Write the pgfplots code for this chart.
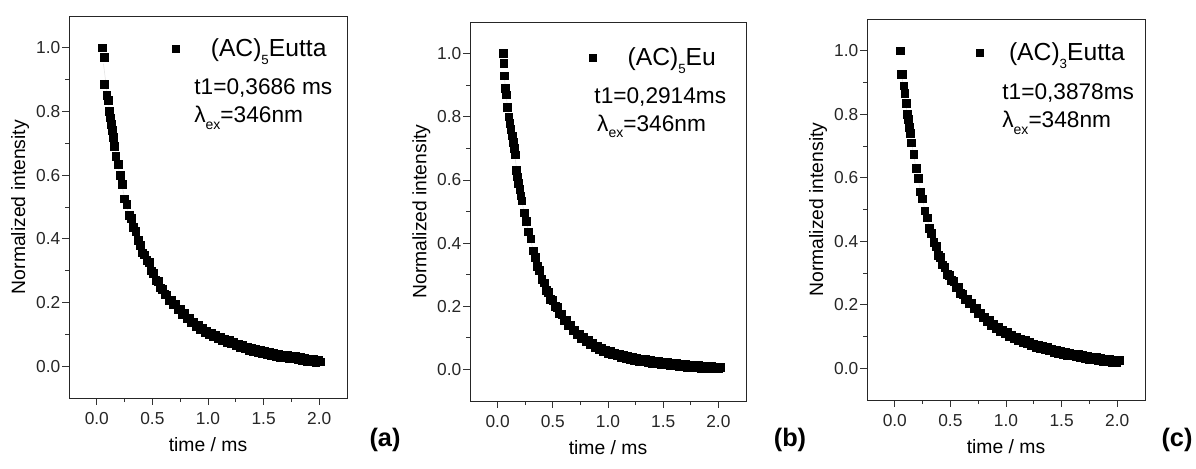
\documentclass[border=0pt]{standalone}
\usepackage{fontspec}
\setmainfont{Liberation Sans}
\usepackage{pgfplots}
\usepackage{pgfplotstable}
\pgfplotsset{compat=1.18}
\newcommand\lsub[1]{\raisebox{-0.32em}{\fontsize{10}{10}\selectfont #1}}
\newcommand\asub[1]{\raisebox{-0.28em}{\fontsize{10.5}{10.5}\selectfont #1}}

\pgfplotstableread{
t y
0.05 1.000
0.065 0.970
0.07 0.885
0.09 0.850
0.10 0.835
0.11 0.800
0.12 0.780
0.13 0.760
0.14 0.740
0.15 0.720
0.16 0.690
0.17 0.660
0.19 0.635
0.21 0.600
0.23 0.572
0.25 0.526
0.27 0.508
0.29 0.474
0.31 0.464
0.33 0.436
0.35 0.424
0.37 0.396
0.39 0.380
0.41 0.356
0.43 0.350
0.45 0.332
0.47 0.326
0.49 0.300
0.51 0.292
0.53 0.270
0.55 0.266
0.57 0.246
0.59 0.242
0.61 0.225
0.63 0.224
0.65 0.207
0.67 0.209
0.69 0.194
0.71 0.194
0.73 0.178
0.75 0.180
0.77 0.164
0.79 0.166
0.81 0.151
0.83 0.152
0.85 0.137
0.87 0.138
0.89 0.125
0.91 0.128
0.93 0.114
0.95 0.119
0.97 0.106
0.99 0.111
1.01 0.099
1.03 0.105
1.05 0.094
1.07 0.099
1.09 0.088
1.11 0.092
1.13 0.082
1.15 0.086
1.17 0.076
1.19 0.081
1.21 0.070
1.23 0.075
1.25 0.064
1.27 0.070
1.29 0.059
1.31 0.065
1.33 0.055
1.35 0.061
1.37 0.051
1.39 0.056
1.41 0.046
1.43 0.052
1.45 0.043
1.47 0.049
1.49 0.039
1.51 0.046
1.53 0.037
1.55 0.043
1.57 0.034
1.59 0.040
1.61 0.031
1.63 0.038
1.65 0.029
1.67 0.036
1.69 0.027
1.71 0.034
1.73 0.025
1.75 0.032
1.77 0.023
1.79 0.030
1.81 0.021
1.83 0.028
1.85 0.019
1.87 0.026
1.89 0.016
1.91 0.023
1.93 0.014
1.95 0.021
1.97 0.013
1.99 0.019
2.01 0.014
}\dataA

\pgfplotstableread{
t y
0.06 0.950
0.10 0.840
0.15 0.720
0.20 0.615
0.25 0.530
0.30 0.465
0.40 0.368
0.50 0.296
0.60 0.236
0.70 0.194
0.80 0.158
0.90 0.127
1.00 0.104
1.20 0.075
1.40 0.051
1.60 0.035
1.80 0.025
2.00 0.016
}\fitA

\pgfplotstableread{
t y
0.05 1.000
0.055 0.970
0.06 0.930
0.07 0.890
0.08 0.870
0.09 0.830
0.10 0.800
0.11 0.780
0.12 0.760
0.13 0.740
0.14 0.720
0.15 0.700
0.16 0.680
0.17 0.630
0.18 0.610
0.19 0.590
0.20 0.570
0.21 0.550
0.22 0.534
0.24 0.496
0.26 0.469
0.28 0.436
0.30 0.414
0.32 0.376
0.34 0.354
0.36 0.326
0.38 0.314
0.40 0.286
0.42 0.274
0.44 0.251
0.46 0.244
0.48 0.221
0.50 0.219
0.52 0.199
0.54 0.196
0.56 0.176
0.58 0.174
0.60 0.156
0.62 0.156
0.64 0.140
0.66 0.140
0.68 0.124
0.70 0.124
0.72 0.110
0.74 0.112
0.76 0.099
0.78 0.102
0.80 0.089
0.82 0.092
0.84 0.080
0.86 0.083
0.88 0.071
0.90 0.074
0.92 0.063
0.94 0.068
0.96 0.057
0.98 0.062
1.00 0.051
1.02 0.057
1.04 0.047
1.06 0.053
1.08 0.043
1.10 0.049
1.12 0.039
1.14 0.045
1.16 0.035
1.18 0.041
1.20 0.031
1.22 0.038
1.24 0.028
1.26 0.035
1.28 0.026
1.30 0.033
1.32 0.024
1.34 0.031
1.36 0.022
1.38 0.029
1.40 0.020
1.42 0.027
1.44 0.018
1.46 0.025
1.48 0.016
1.50 0.024
1.52 0.015
1.54 0.022
1.56 0.013
1.58 0.021
1.60 0.012
1.62 0.019
1.64 0.010
1.66 0.017
1.68 0.008
1.70 0.016
1.72 0.007
1.74 0.014
1.76 0.006
1.78 0.013
1.80 0.005
1.82 0.012
1.84 0.004
1.86 0.011
1.88 0.003
1.90 0.010
1.92 0.002
1.94 0.009
1.96 0.002
1.98 0.008
2.00 0.002
2.02 0.006
}\dataB

\pgfplotstableread{
t y
0.06 0.930
0.10 0.800
0.15 0.690
0.20 0.570
0.25 0.483
0.30 0.410
0.35 0.340
0.40 0.290
0.50 0.215
0.60 0.160
0.70 0.120
0.80 0.093
0.90 0.070
1.00 0.055
1.20 0.035
1.40 0.024
1.60 0.016
1.80 0.009
2.00 0.005
}\fitB

\pgfplotstableread{
t y
0.05 1.000
0.06 0.925
0.07 0.925
0.08 0.890
0.09 0.865
0.10 0.835
0.11 0.800
0.12 0.785
0.13 0.760
0.14 0.740
0.15 0.710
0.17 0.675
0.19 0.630
0.21 0.599
0.23 0.556
0.25 0.534
0.27 0.496
0.29 0.474
0.31 0.441
0.33 0.424
0.35 0.396
0.37 0.384
0.39 0.356
0.41 0.349
0.43 0.326
0.45 0.319
0.47 0.296
0.49 0.294
0.51 0.276
0.53 0.274
0.55 0.256
0.57 0.254
0.59 0.236
0.61 0.234
0.63 0.218
0.65 0.218
0.67 0.203
0.69 0.204
0.71 0.188
0.73 0.189
0.75 0.174
0.77 0.175
0.79 0.160
0.81 0.162
0.83 0.148
0.85 0.150
0.87 0.136
0.89 0.139
0.91 0.126
0.93 0.129
0.95 0.117
0.97 0.121
0.99 0.109
1.01 0.113
1.03 0.101
1.05 0.105
1.07 0.094
1.09 0.099
1.11 0.088
1.13 0.093
1.15 0.082
1.17 0.087
1.19 0.077
1.21 0.082
1.23 0.072
1.25 0.077
1.27 0.067
1.29 0.073
1.31 0.063
1.33 0.069
1.35 0.059
1.37 0.065
1.39 0.055
1.41 0.061
1.43 0.051
1.45 0.057
1.47 0.047
1.49 0.054
1.51 0.044
1.53 0.051
1.55 0.042
1.57 0.048
1.59 0.039
1.61 0.046
1.63 0.036
1.65 0.043
1.67 0.034
1.69 0.041
1.71 0.031
1.73 0.038
1.75 0.029
1.77 0.036
1.79 0.027
1.81 0.034
1.83 0.025
1.85 0.032
1.87 0.023
1.89 0.030
1.91 0.021
1.93 0.028
1.95 0.019
1.97 0.026
1.99 0.018
2.02 0.024
}\dataC

\pgfplotstableread{
t y
0.06 0.930
0.10 0.830
0.15 0.715
0.20 0.612
0.25 0.530
0.30 0.458
0.35 0.400
0.40 0.352
0.50 0.284
0.60 0.235
0.70 0.196
0.80 0.161
0.90 0.132
1.00 0.111
1.20 0.080
1.40 0.058
1.60 0.043
1.80 0.031
2.00 0.022
}\fitC

\tikzset{ann/.style={anchor=west, inner sep=0pt, font=\fontsize{17}{19}\selectfont}}

\pgfplotsset{
  decay/.style={
    scale only axis,
    anchor=south west,
    xmin=-0.25, xmax=2.25, ymin=-0.1, ymax=1.1,
    xtick={0,0.5,1,1.5,2},
    ytick={0,0.2,0.4,0.6,0.8,1.0},
    minor x tick num=1, minor y tick num=1,
    tick pos=left,
    tick align=outside,
    major tick length=5pt, minor tick length=3pt,
    every tick/.style={black!80, line width=0.6pt},
    axis line style={black!85, line width=0.6pt},
    xticklabel style={yshift=-2.5pt, /pgf/number format/.cd, fixed, fixed zerofill, precision=1},
    yticklabel style={xshift=2pt, /pgf/number format/.cd, fixed, fixed zerofill, precision=1},
    /pgf/number format/assume math mode=true,
    tick label style={font=\fontsize{13}{15}\selectfont, text=black!85},
    label style={font=\fontsize{14.5}{17}\selectfont},
    xlabel={time / ms},
    ylabel={Normalized intensity},
    xlabel style={at={(axis description cs:0.5,-0.123)}, anchor=center},
    ylabel style={at={(axis description cs:-0.176,0.5)}, anchor=center},
    legend style={draw=none, fill=none, anchor=west, inner sep=0pt,
      font=\fontsize{18.5}{20}\selectfont},
  },
  lgap/.style={legend image code/.code={%
    \path[draw=none] plot[mark=square*, mark size=2.7pt, mark options={draw=black, fill=black}] coordinates {(0pt,0pt)};
    \path[draw=none, fill=none] (-3pt,0pt) -- (#1,0pt);}},
  pts/.style={only marks, mark=square*, mark size=2.9pt, black},
  fit/.style={no marks, smooth, white!80!gray, line width=0.5pt},
}

\begin{document}
\begin{tikzpicture}
\useasboundingbox (0pt,0pt) rectangle (897pt,351pt);

% (a)
\begin{axis}[decay, lgap=24pt, at={(51.75pt,52.5pt)}, width=208.5pt, height=286.5pt,
  legend style={at={(0.37,0.914)}}]
\addplot[pts] table[x=t,y=y] {\dataA};
\addlegendentry{(AC)\lsub{5}Eutta}
\addplot[fit, forget plot] table[x=t,y=y] {\fitA};
\node[ann] at (axis description cs:0.45,0.812) {t1=0,3686 ms};
\node[ann] at (axis description cs:0.45,0.733) {λ\asub{ex}=346nm};
\end{axis}

% (b)
\begin{axis}[decay, lgap=24pt, at={(352.5pt,50.25pt)}, width=207pt, height=284.25pt,
  legend style={at={(0.43,0.905)}}]
\addplot[pts] table[x=t,y=y] {\dataB};
\addlegendentry{(AC)\lsub{5}Eu}
\addplot[fit, forget plot] table[x=t,y=y] {\fitB};
\node[ann] at (axis description cs:0.45,0.803) {t1=0,2914ms};
\node[ann] at (axis description cs:0.46,0.724) {λ\asub{ex}=346nm};
\end{axis}

% (c)
\begin{axis}[decay, lgap=20pt, at={(650.25pt,51pt)}, width=208.5pt, height=285.75pt,
  legend style={at={(0.39,0.912)}}]
\addplot[pts] table[x=t,y=y] {\dataC};
\addlegendentry{(AC)\lsub{3}Eutta}
\addplot[fit, forget plot] table[x=t,y=y] {\fitC};
\node[ann] at (axis description cs:0.486,0.806) {t1=0,3878ms};
\node[ann] at (axis description cs:0.486,0.727) {λ\asub{ex}=348nm};
\end{axis}

\node[font=\bfseries\fontsize{19}{21}\selectfont] at (288.75pt,21pt) {(a)};
\node[font=\bfseries\fontsize{19}{21}\selectfont] at (592.5pt,21pt) {(b)};
\node[font=\bfseries\fontsize{19}{21}\selectfont] at (882.75pt,21pt) {(c)};
\end{tikzpicture}
\end{document}
